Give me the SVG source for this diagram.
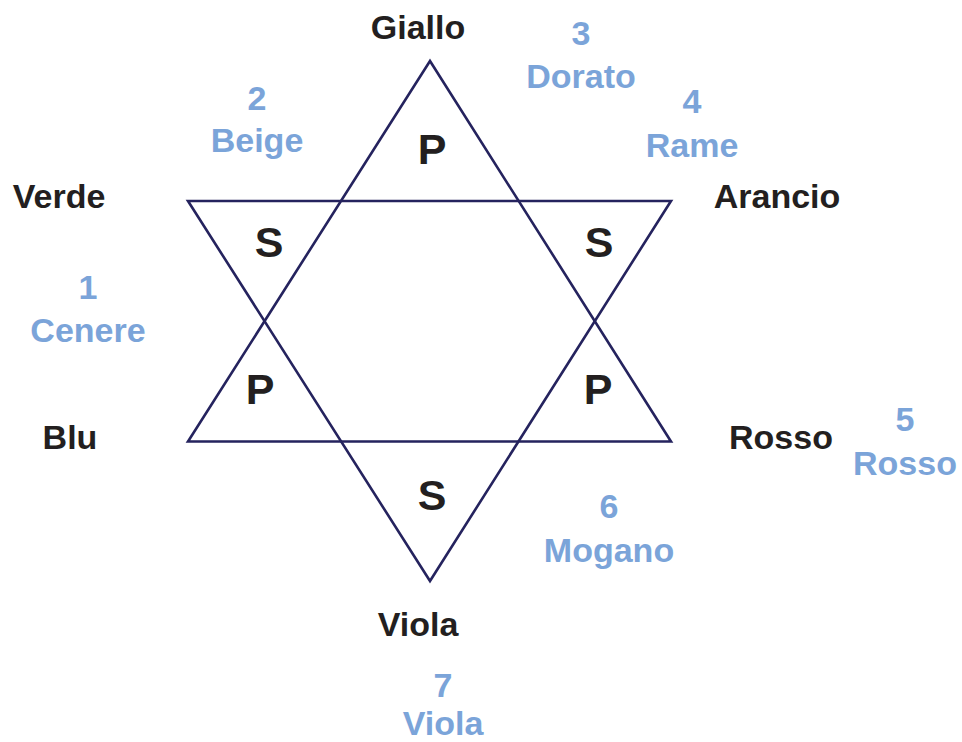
<svg xmlns="http://www.w3.org/2000/svg" width="962" height="742" viewBox="0 0 962 742">
<style>
text{font-family:"Liberation Sans",Arial,sans-serif;font-weight:bold;text-anchor:middle}
.k{fill:#231f20;font-size:34px}
.b{fill:#7ba4d9;font-size:34px}
.m{fill:#231f20;font-size:43px}
.t{fill:none;stroke:#25235e;stroke-width:2.6;stroke-linejoin:miter}
</style>
<rect width="962" height="742" fill="#fff"/>
<g id="connectors">
<polygon id="up" class="t" points="430,61 188,441.5 671,441.5"/>
<polygon id="down" class="t" points="188,201 671,201 430,581"/>
</g>
<g id="center-labels">
<text class="m" x="432" y="164">P</text>
<text class="m" x="269" y="257">S</text>
<text class="m" x="599" y="257">S</text>
<text class="m" x="260" y="404">P</text>
<text class="m" x="598" y="404">P</text>
<text class="m" x="432" y="510">S</text>
</g>
<g id="giallo"><text class="k" x="418" y="39">Giallo</text></g>
<g id="verde"><text class="k" x="59" y="208">Verde</text></g>
<g id="arancio"><text class="k" x="777" y="208">Arancio</text></g>
<g id="blu"><text class="k" x="70" y="449">Blu</text></g>
<g id="rosso"><text class="k" x="781" y="449">Rosso</text></g>
<g id="viola"><text class="k" x="418" y="636">Viola</text></g>
<g id="n1"><text class="b" x="88" y="299">1</text><text class="b" x="88" y="342">Cenere</text></g>
<g id="n2"><text class="b" x="257" y="110">2</text><text class="b" x="257" y="152">Beige</text></g>
<g id="n3"><text class="b" x="581" y="45">3</text><text class="b" x="581" y="88">Dorato</text></g>
<g id="n4"><text class="b" x="692" y="113">4</text><text class="b" x="692" y="157">Rame</text></g>
<g id="n5"><text class="b" x="905" y="431">5</text><text class="b" x="905" y="475">Rosso</text></g>
<g id="n6"><text class="b" x="609" y="518">6</text><text class="b" x="609" y="562">Mogano</text></g>
<g id="n7"><text class="b" x="443" y="697">7</text><text class="b" x="443" y="735">Viola</text></g>
</svg>
